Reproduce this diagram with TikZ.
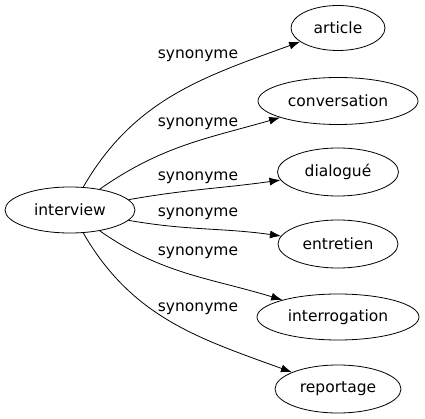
\documentclass[tikz,border=0pt]{standalone}
\usepackage{fontspec}
\setmainfont{DejaVu Sans}
\usetikzlibrary{shapes.geometric,arrows.meta}
\begin{document}
\begin{tikzpicture}
        [x=1pt,y=-1pt,line width=0.8pt,
         word/.style={draw,ellipse,inner sep=0pt,font=\fontsize{15.5}{18}\selectfont},
         lbl/.style={font=\fontsize{15.5}{18}\selectfont,inner sep=0pt},
         syn/.style={-{Latex[length=11pt,width=8pt]}}]
        \useasboundingbox (0,0) rectangle (425,419);

        \node[word,minimum width=130,minimum height=46] (interview) at (70,210) {interview};

        \node[word,minimum width=94,minimum height=45] (article) at (338,28) {article};
        \node[word,minimum width=160,minimum height=47] (conversation) at (338,101) {conversation};
        \node[word,minimum width=121,minimum height=48] (dialogue) at (338,172) {dialogué};
        \node[word,minimum width=120,minimum height=48] (entretien) at (338,244) {entretien};
        \node[word,minimum width=162,minimum height=46] (interrogation) at (338,317) {interrogation};
        \node[word,minimum width=126,minimum height=48] (reportage) at (338,389) {reportage};

        \draw[syn] (interview) to[out=60,in=200] (article);
        \draw[syn] (interview) to[out=35,in=196] (conversation);
        \draw[syn] (interview) to[out=10,in=188] (dialogue);
        \draw[syn] (interview) to[out=-10,in=172] (entretien);
        \draw[syn] (interview) to[out=-35,in=163] (interrogation);
        \draw[syn] (interview) to[out=-60,in=160] (reportage);

        \node[lbl] (s1) at (198,56) {synonyme};
        \node[lbl] (s2) at (198,124) {synonyme};
        \node[lbl] (s3) at (198,178) {synonyme};
        \node[lbl] (s4) at (198,214) {synonyme};
        \node[lbl] (s5) at (198,253) {synonyme};
        \node[lbl] (s6) at (198,309) {synonyme};
      \end{tikzpicture}
\end{document}
